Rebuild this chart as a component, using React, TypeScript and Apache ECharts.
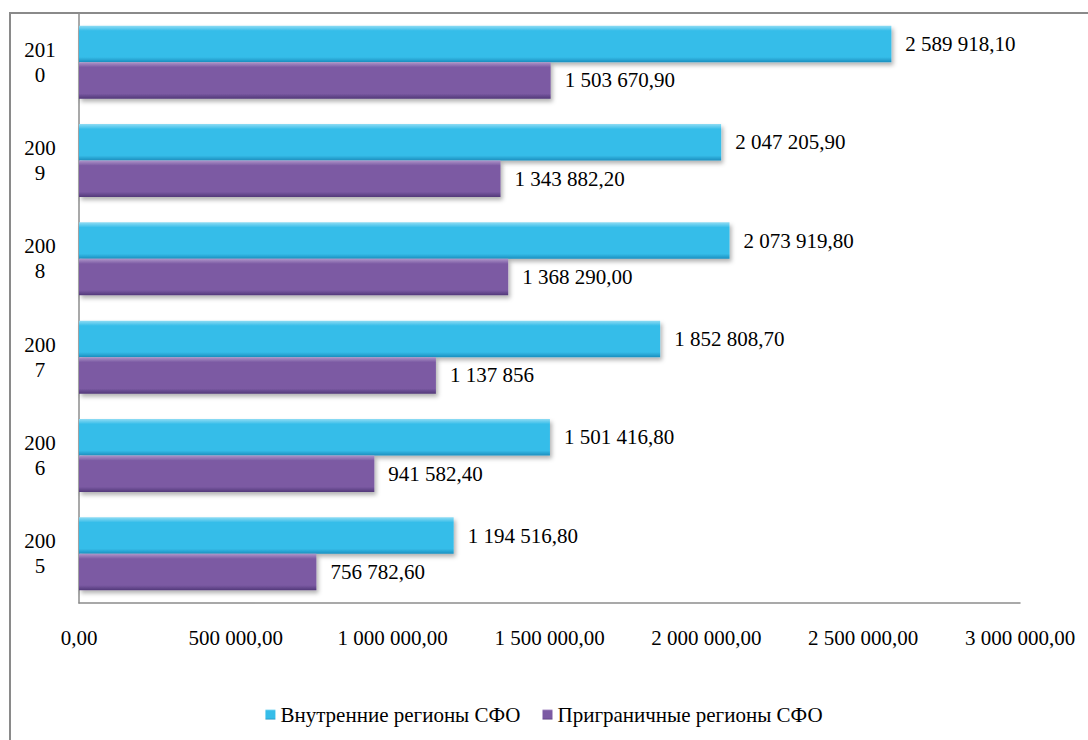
import React, { useEffect, useRef } from "react";
import * as echarts from "echarts";

const years = ["2005", "2006", "2007", "2008", "2009", "2010"];
const innerRegions = [1194516.8, 1501416.8, 1852808.7, 2073919.8, 2047205.9, 2589918.1];
const borderRegions = [756782.6, 941582.4, 1137856, 1368290.0, 1343882.2, 1503670.9];
const innerLabels = ["1 194 516,80", "1 501 416,80", "1 852 808,70", "2 073 919,80", "2 047 205,90", "2 589 918,10"];
const borderLabels = ["756 782,60", "941 582,40", "1 137 856", "1 368 290,00", "1 343 882,20", "1 503 670,90"];
const seriesNames = ["Внутренние регионы СФО", "Приграничные регионы СФО"];

const FONT = "'Times New Roman', 'Liberation Serif', 'DejaVu Serif', serif";
const FS = 21;

function fmtTick(v: number): string {
  const s = Math.round(v).toString().replace(/\B(?=(\d{3})+(?!\d))/g, " ");
  return s + ",00";
}

function grad(light: string, main: string, dark: string) {
  return new echarts.graphic.LinearGradient(0, 0, 0, 1, [
    { offset: 0, color: light },
    { offset: 0.14, color: main },
    { offset: 0.86, color: main },
    { offset: 1, color: dark },
  ]);
}

export default function App() {
  const ref = useRef<HTMLDivElement>(null);
  useEffect(() => {
    if (!ref.current) return;
    const chart = echarts.init(ref.current, null, { renderer: "svg" });
    const labelStyle = { show: true, position: "right" as const, distance: 14, fontFamily: FONT, fontSize: FS, color: "#000" };
    chart.setOption({
      animation: false,
      backgroundColor: "#fff",
      textStyle: { fontFamily: FONT },
      graphic: [
        {
          type: "rect",
          shape: { x: 10, y: 13, width: 1200, height: 900 },
          style: { fill: "none", stroke: "#8a8a8a", lineWidth: 2 },
          silent: true,
          z: -1,
        },
      ],
      grid: { left: 79, top: 13, right: 68, bottom: 137, containLabel: false },
      legend: {
        bottom: 10,
        left: "center",
        icon: "rect",
        itemWidth: 10,
        itemHeight: 10,
        itemGap: 22,
        itemTextGap: 3,
        textStyle: { fontFamily: FONT, fontSize: FS, color: "#000" },
        data: seriesNames,
      },
      xAxis: {
        type: "value",
        min: 0,
        max: 3000000,
        interval: 500000,
        axisLine: { show: true, lineStyle: { color: "#8c8c8c", width: 1.5 } },
        axisTick: { show: false },
        splitLine: { show: false },
        axisLabel: { margin: 24, fontFamily: FONT, fontSize: FS, color: "#000", formatter: (v: number) => (v === 0 ? "0,00" : fmtTick(v)) },
      },
      yAxis: {
        type: "category",
        data: years,
        axisLine: { show: true, lineStyle: { color: "#8c8c8c", width: 1.5 } },
        axisTick: { show: false },
        axisLabel: {
          margin: 39,
          align: "center",
          fontFamily: FONT,
          fontSize: FS,
          lineHeight: 25,
          color: "#000",
          formatter: (v: string) => v.slice(0, 3) + "\n" + v.slice(3),
        },
      },
      series: [
        {
          name: seriesNames[0],
          type: "bar",
          data: innerRegions,
          barWidth: 36.5,
          barGap: "0%",
          itemStyle: {
            color: grad("#8fdcf4", "#36bde9", "#1b8fbf"),
            shadowColor: "rgba(0,0,0,0.3)",
            shadowBlur: 4,
            shadowOffsetX: 2,
            shadowOffsetY: 3,
          },
          label: { ...labelStyle, formatter: (p: any) => innerLabels[p.dataIndex] },
        },
        {
          name: seriesNames[1],
          type: "bar",
          data: borderRegions,
          barWidth: 36.5,
          barGap: "0%",
          itemStyle: {
            color: grad("#ae95c9", "#7b5aa3", "#523879"),
            shadowColor: "rgba(0,0,0,0.3)",
            shadowBlur: 4,
            shadowOffsetX: 2,
            shadowOffsetY: 3,
          },
          label: { ...labelStyle, formatter: (p: any) => borderLabels[p.dataIndex] },
        },
      ],
    });
    return () => chart.dispose();
  }, []);
  return <div ref={ref} style={{ position: "absolute", left: 0, top: 0, width: 1088, height: 740 }} />;
}
